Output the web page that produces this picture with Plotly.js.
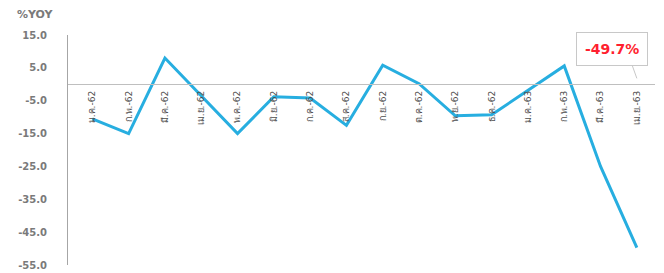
<!DOCTYPE html>
<html><head><meta charset="utf-8">
<script src="https://cdn.plot.ly/plotly-3.0.1.min.js"></script>
<style>html,body{margin:0;padding:0;background:#fff;}#c{width:664px;height:273px;}</style>
</head><body><div id="c"></div>
<script>
const months = ["ม.ค.-62","ก.พ.-62","มี.ค.-62","เม.ย.-62","พ.ค.-62","มิ.ย.-62","ก.ค.-62","ส.ค.-62","ก.ย.-62","ต.ค.-62","พ.ย.-62","ธ.ค.-62","ม.ค.-63","ก.พ.-63","มี.ค.-63","เม.ย.-63"];
const yoy = [-10.5,-15.0,8.0,-3.5,-15.0,-3.8,-4.2,-12.5,5.8,0.2,-9.6,-9.3,-1.9,5.6,-25.0,-49.7];
const yTicks = [15,5,-5,-15,-25,-35,-45,-55];
const calloutText = "-49.7%";

const trace = {
  x: months, y: yoy, type: 'scatter', mode: 'lines',
  line: {color: '#27aee0', width: 3},
  hoverinfo: 'skip'
};
const last = months.length - 1;
const layout = {
  width: 664, height: 273,
  margin: {l: 68, r: 9, t: 35, b: 8},
  paper_bgcolor: '#fff', plot_bgcolor: '#fff',
  showlegend: false,
  font: {family: 'DejaVu Sans, Noto Sans, sans-serif', color: '#7f7f7f'},
  xaxis: {
    type: 'category', range: [-0.67, 15.5],
    anchor: 'free', position: 55/70,
    showline: true, linecolor: '#bfbfbf', linewidth: 1,
    showgrid: false, zeroline: false, ticks: '',
    tickangle: -90, ticklabelstandoff: 2,
    tickfont: {size: 9, color: '#4d4d4d'}
  },
  yaxis: {
    range: [-55, 15], tickvals: yTicks, ticktext: yTicks.map(v => v.toFixed(1)),
    showline: true, linecolor: '#a6a6a6', linewidth: 1,
    showgrid: false, zeroline: false, ticks: '',
    ticklabelstandoff: 18,
    tickfont: {size: 10, color: '#7a7a7a', family: 'DejaVu Sans, sans-serif', weight: 'bold'}
  },
  annotations: [
    {text: '%YOY', xref: 'paper', yref: 'paper', x: -0.09, y: 1.0, yshift: 21,
     xanchor: 'left', yanchor: 'middle', showarrow: false,
     font: {size: 11, color: '#7a7a7a', weight: 'bold'}},
    {text: '', xref: 'x', yref: 'y', x: months[last], y: 1.8,
     ax: -5, ay: -14, showarrow: true, arrowhead: 0, arrowwidth: 1, arrowcolor: '#c8c8c8', standoff: 0},
    {text: '<b>' + calloutText + '</b>', xref: 'x', yref: 'y', x: months[last], y: 10.6,
     xshift: -25, showarrow: false, xanchor: 'center', yanchor: 'middle',
     bgcolor: '#fff', bordercolor: '#c8c8c8', borderwidth: 1, borderpad: 8,
     font: {size: 14, color: '#ff1f2f', family: 'DejaVu Sans, sans-serif'}}
  ]
};
Plotly.newPlot('c', [trace], layout, {staticPlot: true, displayModeBar: false});
</script></body></html>
